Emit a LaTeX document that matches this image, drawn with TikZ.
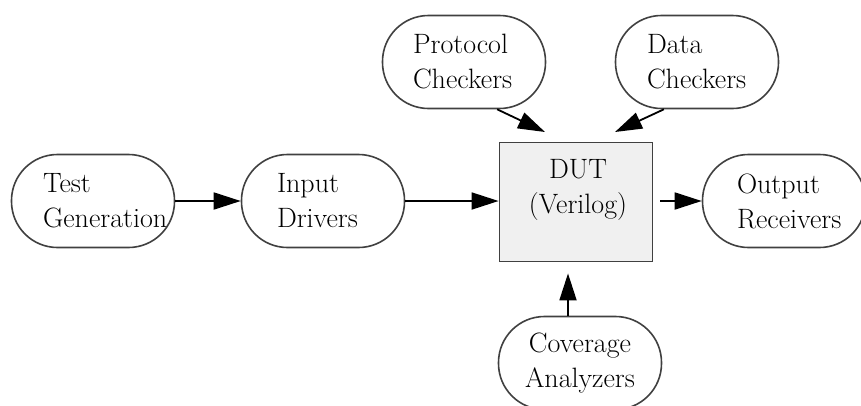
\documentclass[tikz,border=0pt]{standalone}
\usetikzlibrary{arrows.meta}
\begin{document}
\begin{tikzpicture}[x=1pt,y=-1pt,
  capsule/.style={draw=black!75,line width=1.6pt,rounded corners=46pt,
    minimum width=163pt,minimum height=93pt,inner sep=0pt,
    font=\fontsize{28}{35}\selectfont},
  dutbox/.style={draw=black!75,line width=1.8pt,fill=black!6,
    minimum width=153pt,minimum height=119pt,inner sep=0pt},
  arr/.style={line width=1.8pt,-{Triangle[length=27pt,width=17pt]}}]
\useasboundingbox (0,0) rectangle (861,405);
\node[capsule,text width=100pt,align=left] (test) at (93,201) {Test\\Generation};
\node[capsule,text width=92pt,align=left] (inp) at (323,201) {Input\\Drivers};
\node[dutbox] (dut) at (576,202) {};
\node[font=\fontsize{28}{35}\selectfont,align=center,inner sep=0pt] (dutlabel) at (578,190) {DUT\\(Verilog)};
\node[capsule,text width=94pt,align=left] (out) at (784,201) {Output\\Receivers};
\node[capsule,text width=102pt,align=left] (prot) at (464,62) {Protocol\\Checkers};
\node[capsule,text width=100pt,align=left] (data) at (697,62) {Data\\Checkers};
\node[capsule,align=center] (cov) at (580,363) {Coverage\\Analyzers};
\coordinate (ptip) at (545,132);
\coordinate (dtip) at (615,132);
\draw[arr] (test.east) -- (inp.west);
\draw[arr] (inp.east) -- (inp.east -| dut.west);
\draw[arr,shorten <=7pt] (out.west -| dut.east) -- (out.west);
\draw[arr,shorten >=11pt] (cov.north -| dut.south) ++(-8,0) coordinate (cstart) -- (cstart |- dut.south);
\draw[arr] (prot.-55) -- (ptip);
\draw[arr] (data.-125) -- (dtip);
\end{tikzpicture}
\end{document}
